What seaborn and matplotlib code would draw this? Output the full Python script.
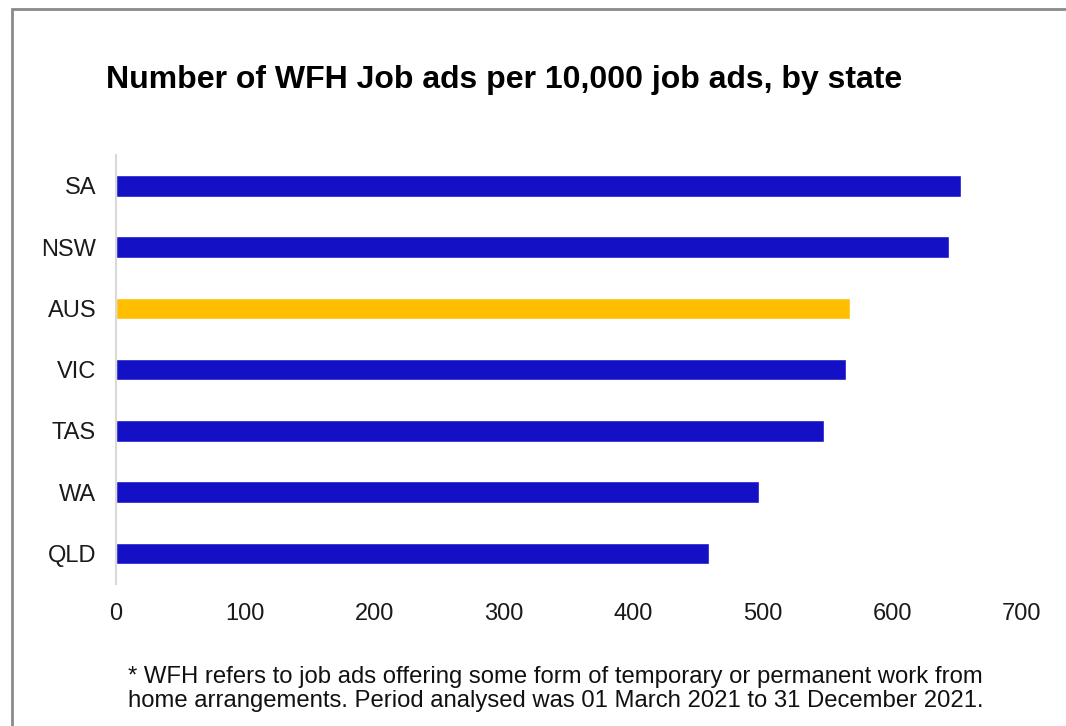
import matplotlib
matplotlib.use("Agg")
import matplotlib.pyplot as plt
import seaborn as sns
import pandas as pd
from matplotlib.patches import Rectangle

states = ["SA", "NSW", "AUS", "VIC", "TAS", "WA", "QLD"]
values = [653, 644, 567, 564, 547, 497, 458]
bar_colors = ["#1410C6", "#1410C6", "#FFBF00", "#1410C6", "#1410C6", "#1410C6", "#1410C6"]
x_ticks = [0, 100, 200, 300, 400, 500, 600, 700]
title = "Number of WFH Job ads per 10,000 job ads, by state"
footnote = ("* WFH refers to job ads offering some form of temporary or permanent work from\n"
            "home arrangements. Period analysed was 01 March 2021 to 31 December 2021.")

sns.set_theme(style="white")
plt.rcParams['font.family'] = ['Liberation Sans', 'DejaVu Sans']

df = pd.DataFrame({"state": states, "value": values})
palette = dict(zip(states, bar_colors))

fig = plt.figure(figsize=(10.66, 7.26), dpi=100)
ax = fig.add_axes([0.1084, 0.1956, 0.8503, 0.5904])

sns.barplot(data=df, x="value", y="state", hue="state", palette=palette,
            order=states, hue_order=states, orient="h", width=0.35,
            legend=False, ax=ax, saturation=1)

ax.set_xlim(0, 700)
ax.set_ylim(6.5, -0.5)
ax.set_xticks(x_ticks)
ax.set_xticklabels([str(t) for t in x_ticks], fontsize=17, color="#1a1a1a")
for lab in ax.get_yticklabels():
    lab.set_color("#1a1a1a")
ax.tick_params(axis="y", labelsize=17, length=0, pad=14)
ax.tick_params(axis="x", length=0, pad=14)
ax.set_xlabel("")
ax.set_ylabel("")
for s in ["top", "right", "bottom"]:
    ax.spines[s].set_visible(False)
ax.spines["left"].set_color("#d9d9d9")
ax.spines["left"].set_linewidth(1.5)
ax.grid(False)

fig.text(106 / 1066, 1 - 80 / 726, title, fontsize=23, fontweight="bold",
         ha="left", va="center", color="#000000")
fig.text(128 / 1066, 1 - 689 / 726, footnote, fontsize=17.2, ha="left", va="center",
         linespacing=1.1, color="#111111")

frame = Rectangle((12 / 1066, -0.05), 1.1, 1.05 - 9 / 726, transform=fig.transFigure,
                  fill=False, edgecolor="#8a8a8a", linewidth=2, clip_on=False)
fig.patches.append(frame)

fig.savefig("out.png", dpi=100)
